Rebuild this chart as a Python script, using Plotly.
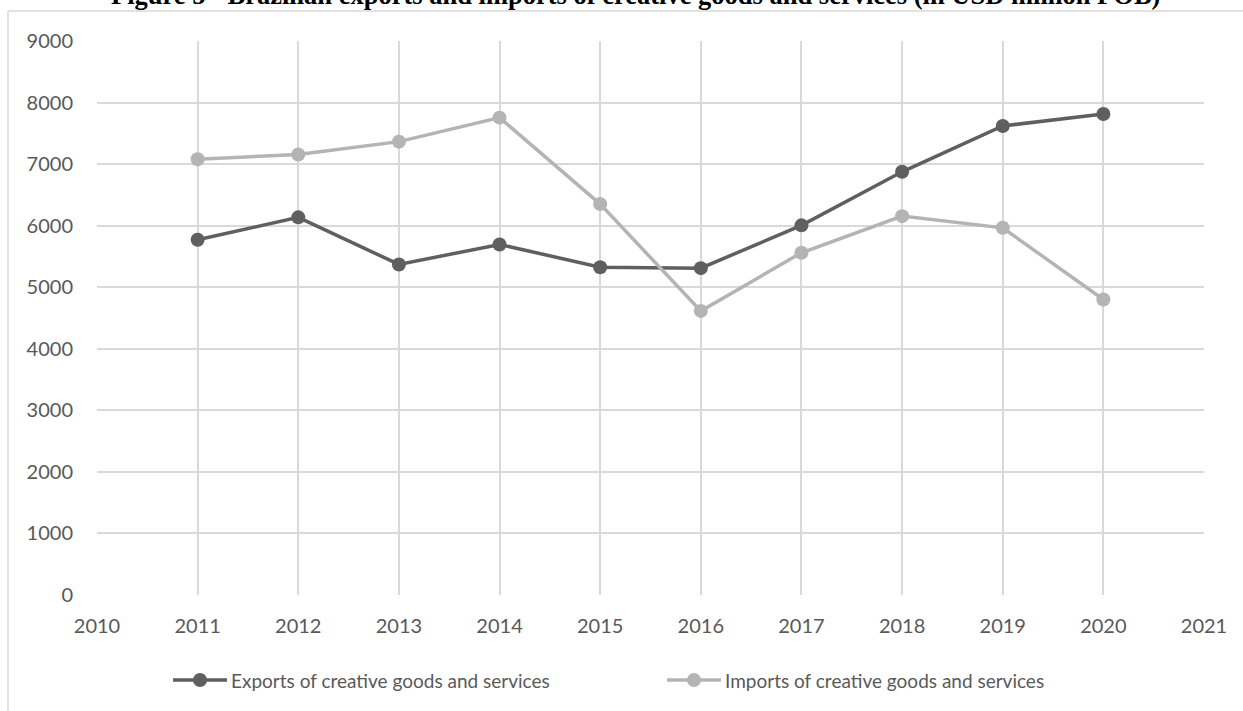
import plotly.graph_objects as go

# Brazilian trade in creative goods and services, USD million FOB
years = [2011, 2012, 2013, 2014, 2015, 2016, 2017, 2018, 2019, 2020]
exports = [5770, 6135, 5370, 5695, 5325, 5310, 6005, 6875, 7620, 7815]
imports = [7080, 7155, 7365, 7755, 6350, 4615, 5560, 6155, 5965, 4800]

export_name = "Exports of creative goods and services"
import_name = "Imports of creative goods and services"
title_text = "Figure 5 - Brazilian exports and imports of creative goods and services (in USD million FOB)"

W, H = 1243, 711
L, R, T, B = 97, 39, 41, 116
grid = "#d9d9d9"
dark, light = "#5f5f5f", "#b4b4b4"
tick_font = dict(family="Lato, Open Sans, sans-serif", size=20, color="#595959")
legend_font = dict(family="Lato, Open Sans, sans-serif", size=19, color="#595959")

fig = go.Figure()
fig.add_trace(go.Scatter(
    x=years, y=exports, name=export_name, mode="lines+markers",
    line=dict(color=dark, width=3.5), marker=dict(color=dark, size=14),
))
fig.add_trace(go.Scatter(
    x=years, y=imports, name=import_name, mode="lines+markers",
    line=dict(color=light, width=3.5), marker=dict(color=light, size=14),
))

def px_x(p):
    return (p - L) / (W - L - R)

def px_y(p):
    return (H - B - p) / (H - T - B)

# outer chart frame (top and left edges)
fig.add_shape(type="line", xref="paper", yref="paper",
              x0=px_x(8), x1=px_x(W + 5), y0=px_y(11), y1=px_y(11),
              line=dict(color=grid, width=1.5))
fig.add_shape(type="line", xref="paper", yref="paper",
              x0=px_x(8), x1=px_x(8), y0=px_y(11), y1=px_y(H + 5),
              line=dict(color=grid, width=1.5))

fig.add_annotation(
    text="<b>" + title_text + "</b>", xref="paper", yref="paper",
    x=px_x(635), y=px_y(6), xanchor="center", yanchor="bottom", yshift=-6,
    showarrow=False,
    font=dict(family="Liberation Serif, Times New Roman, serif", size=26.5, color="#000000"),
)

# legend below the plot: line with a dot, then the series name
legend_y = 680
for cx, color, name in [(200, dark, export_name), (694, light, import_name)]:
    fig.add_shape(type="line", xref="paper", yref="paper",
                  x0=px_x(cx - 27), x1=px_x(cx + 27), y0=px_y(legend_y), y1=px_y(legend_y),
                  line=dict(color=color, width=3.5))
    fig.add_shape(type="circle", xref="paper", yref="paper",
                  x0=px_x(cx - 7), x1=px_x(cx + 7), y0=px_y(legend_y - 7), y1=px_y(legend_y + 7),
                  fillcolor=color, line=dict(color=color, width=0))
    fig.add_annotation(text=name, xref="paper", yref="paper",
                       x=px_x(cx + 29), y=px_y(legend_y), xanchor="left", yanchor="middle",
                       showarrow=False, font=legend_font)

fig.update_xaxes(
    range=[2010, 2021], dtick=1, tick0=2010,
    showgrid=True, gridcolor=grid, gridwidth=1.5,
    showline=False, zeroline=False, automargin=False,
    ticks="outside", ticklen=13, tickcolor="rgba(0,0,0,0)",
    tickfont=tick_font,
)
fig.update_yaxes(
    range=[0, 9000], dtick=1000,
    showgrid=True, gridcolor=grid, gridwidth=1.5,
    showline=False, zeroline=False, automargin=False,
    ticks="outside", ticklen=19, tickcolor="rgba(0,0,0,0)",
    tickfont=tick_font,
)

fig.update_layout(
    width=W, height=H,
    margin=dict(l=L, r=R, t=T, b=B),
    plot_bgcolor="white", paper_bgcolor="white",
    showlegend=False,
)

fig.write_html("out.html")
